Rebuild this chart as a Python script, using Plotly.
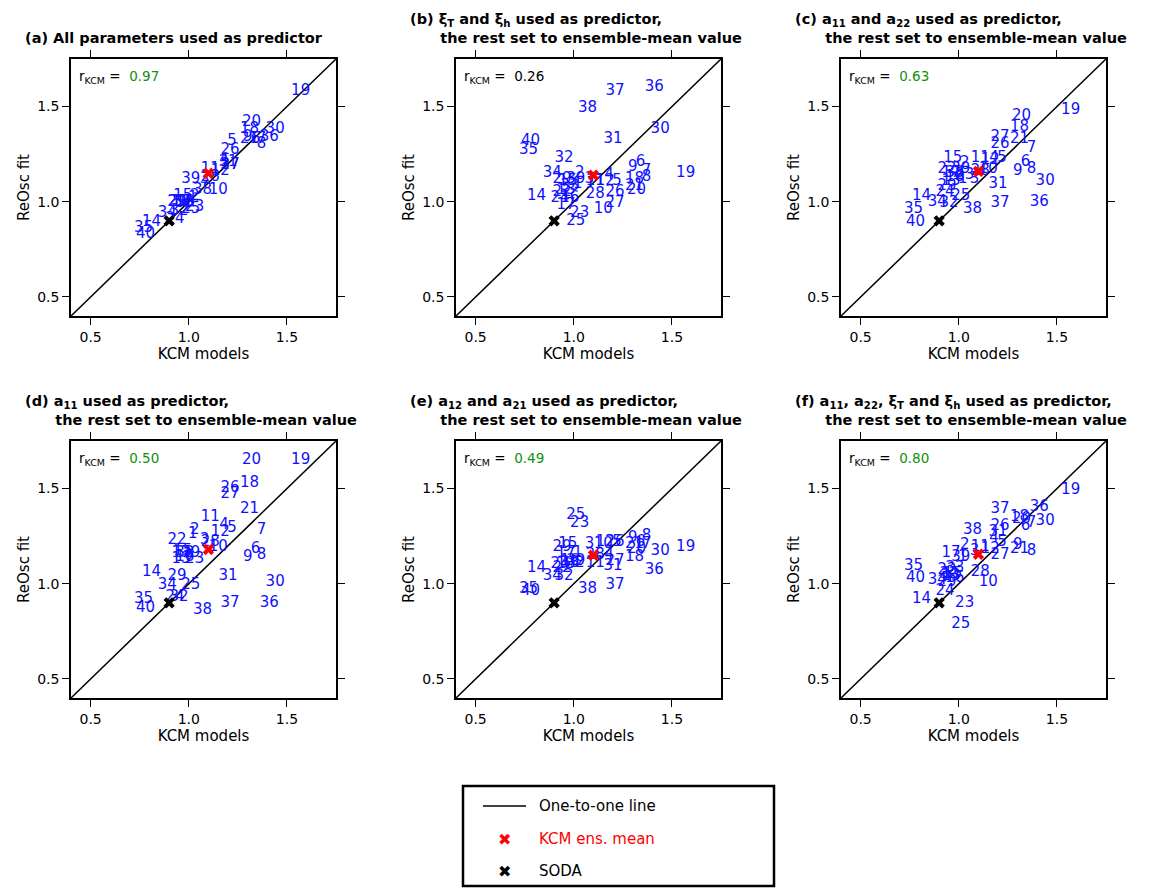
import plotly.graph_objects as go

# KCM model values (x, shared) and ReOsc fits (y) for each predictor experiment
models = [str(i) for i in range(1, 41)]
kcm_x = [1.02, 1.03, 1.08, 1.18, 1.22, 1.34, 1.37, 1.37, 1.30, 1.15,
         1.11, 1.16, 0.96, 0.81, 0.97, 0.98, 0.96, 1.31, 1.57, 1.32,
         1.31, 0.94, 1.03, 0.93, 1.01, 1.21, 1.21, 1.11, 0.94, 1.44,
         1.20, 0.95, 0.98, 0.89, 0.77, 1.41, 1.21, 1.07, 1.01, 0.78]

fit_a = [1.02, 1.03, 1.12, 1.22, 1.32, 1.33, 1.33, 1.30, 1.34, 1.06,
         1.17, 1.16, 1.00, 0.89, 1.03, 1.00, 1.00, 1.38, 1.58, 1.42,
         1.33, 1.00, 0.97, 0.91, 0.96, 1.27, 1.19, 1.13, 1.00, 1.38,
         1.21, 0.95, 0.99, 0.94, 0.86, 1.34, 1.19, 1.06, 1.12, 0.83]
fit_b = [1.09, 1.15, 1.12, 1.14, 1.11, 1.21, 1.16, 1.13, 1.18, 0.96,
         1.11, 1.11, 1.06, 1.03, 1.11, 1.02, 0.98, 1.12, 1.15, 1.06,
         1.08, 1.05, 0.94, 1.02, 0.90, 1.05, 0.99, 1.04, 1.12, 1.38,
         1.33, 1.23, 1.08, 1.15, 1.27, 1.60, 1.58, 1.49, 1.12, 1.32]
fit_c = [1.12, 1.20, 1.12, 1.23, 1.23, 1.21, 1.28, 1.17, 1.16, 1.17,
         1.23, 1.22, 1.11, 1.03, 1.23, 1.13, 1.15, 1.39, 1.48, 1.45,
         1.33, 1.17, 1.14, 1.05, 1.03, 1.30, 1.34, 1.16, 1.08, 1.11,
         1.09, 0.99, 1.15, 1.00, 0.96, 1.00, 0.99, 0.96, 1.17, 0.89]
fit_d = [1.26, 1.28, 1.23, 1.31, 1.29, 1.18, 1.28, 1.15, 1.14, 1.19,
         1.35, 1.27, 1.13, 1.06, 1.17, 1.14, 1.16, 1.53, 1.65, 1.65,
         1.39, 1.23, 1.13, 0.93, 0.99, 1.50, 1.47, 1.22, 1.04, 1.01,
         1.04, 0.93, 1.16, 0.99, 0.92, 0.90, 0.90, 0.86, 1.16, 0.87]
fit_e = [1.16, 1.11, 1.21, 1.15, 1.22, 1.22, 1.21, 1.25, 1.24, 1.21,
         1.11, 1.22, 1.10, 1.08, 1.21, 1.12, 1.16, 1.14, 1.19, 1.18,
         1.21, 1.08, 1.32, 1.10, 1.36, 1.22, 1.12, 1.15, 1.19, 1.17,
         1.09, 1.04, 1.11, 1.04, 0.97, 1.07, 0.99, 0.97, 1.12, 0.96]
fit_f = [1.14, 1.20, 1.17, 1.24, 1.22, 1.30, 1.32, 1.17, 1.20, 1.01,
         1.19, 1.18, 1.04, 0.92, 1.05, 1.03, 1.16, 1.35, 1.49, 1.34,
         1.18, 1.07, 0.90, 0.96, 0.79, 1.30, 1.15, 1.06, 1.01, 1.33,
         1.27, 1.05, 1.08, 1.02, 1.09, 1.40, 1.39, 1.28, 1.14, 1.03]

ens_mean_x = [1.10, 1.10, 1.10, 1.10, 1.10, 1.10]
ens_mean_y = [1.15, 1.14, 1.16, 1.18, 1.15, 1.155]
soda_x, soda_y = 0.90, 0.90
r_kcm = ["0.97", "0.26", "0.63", "0.50", "0.49", "0.80"]
r_color = ["#109010", "black", "#109010", "#109010", "#109010", "#109010"]
line_range = [0.4, 1.75]
tick_vals = [0.5, 1.0, 1.5]
tick_text = ["0.5", "1.0", "1.5"]

titles = [
    "(a) All parameters used as predictor",
    "(b) ξ<sub>T</sub> and ξ<sub>h</sub> used as predictor,<br>      the rest set to ensemble-mean value",
    "(c) a<sub>11</sub> and a<sub>22</sub> used as predictor,<br>      the rest set to ensemble-mean value",
    "(d) a<sub>11</sub> used as predictor,<br>      the rest set to ensemble-mean value",
    "(e) a<sub>12</sub> and a<sub>21</sub> used as predictor,<br>      the rest set to ensemble-mean value",
    "(f) a<sub>11</sub>, a<sub>22</sub>, ξ<sub>T</sub> and ξ<sub>h</sub> used as predictor,<br>      the rest set to ensemble-mean value",
]
fits = [fit_a, fit_b, fit_c, fit_d, fit_e, fit_f]

W, H = 1169, 890
col_px = [(63, 328), (448, 713), (833, 1098)]
row_px = [(51, 308), (433, 690)]
FONT = "DejaVu Sans"

fig = go.Figure()
annotations = []
shapes = []
layout = {}

for i in range(6):
    r, c = divmod(i, 3)
    x0, x1 = col_px[c]
    y0, y1 = row_px[r]
    n = "" if i == 0 else str(i + 1)
    xa, ya = "x" + n, "y" + n
    axis_common = dict(range=line_range, tickvals=tick_vals, ticktext=tick_text,
                       ticks="outside", ticklen=7, tickcolor="black", mirror="ticks", showline=True,
                       linecolor="black", linewidth=1.5, showgrid=False, zeroline=False,
                       tickfont=dict(size=14, color="black", family=FONT))
    layout["xaxis" + n] = dict(axis_common, domain=[x0 / W, x1 / W], anchor=ya,
                               title=dict(text="KCM models", font=dict(size=15, family=FONT, color="black"), standoff=4))
    layout["yaxis" + n] = dict(axis_common, domain=[1 - y1 / H, 1 - y0 / H], anchor=xa,
                               title=dict(text="ReOsc fit", font=dict(size=15, family=FONT, color="black"), standoff=4))

    fig.add_trace(go.Scatter(x=line_range, y=line_range, mode="lines", xaxis=xa, yaxis=ya,
                             line=dict(color="black", width=1.5), showlegend=False))
    fig.add_trace(go.Scatter(x=kcm_x, y=fits[i], mode="text", text=models, xaxis=xa, yaxis=ya,
                             textfont=dict(color="#1010ff", size=15, family=FONT), showlegend=False))
    fig.add_trace(go.Scatter(x=[soda_x], y=[soda_y], mode="markers", xaxis=xa, yaxis=ya,
                             marker=dict(symbol="x", color="black", size=10), showlegend=False))
    fig.add_trace(go.Scatter(x=[ens_mean_x[i]], y=[ens_mean_y[i]], mode="markers", xaxis=xa, yaxis=ya,
                             marker=dict(symbol="x", color="red", size=10), showlegend=False))

    annotations.append(dict(text="<b>" + titles[i] + "</b>", x=(x0 - 48) / W, y=1 - (y0 - 11) / H,
                            xref="paper", yref="paper", xanchor="left", yanchor="bottom", align="left",
                            showarrow=False, font=dict(size=14.5, family=FONT, color="black")))
    annotations.append(dict(text="r<sub>KCM</sub> =  <span style='color:%s'>%s</span>" % (r_color[i], r_kcm[i]),
                            x=(x0 + 6) / W, y=1 - (y0 + 7) / H, xref="paper", yref="paper",
                            xanchor="left", yanchor="top", showarrow=False,
                            font=dict(size=13.5, family=FONT, color="black")))

# legend box
lx0, lx1, ly0, ly1 = 455, 766, 778, 878
shapes.append(dict(type="rect", xref="paper", yref="paper", x0=lx0 / W, x1=lx1 / W,
                   y0=1 - ly1 / H, y1=1 - ly0 / H, line=dict(color="black", width=2.5)))
shapes.append(dict(type="line", xref="paper", yref="paper", x0=475 / W, x1=518 / W,
                   y0=1 - 798 / H, y1=1 - 798 / H, line=dict(color="black", width=1.5)))
legend_items = [("One-to-one line", "black", 798), ("KCM ens. mean", "red", 831), ("SODA", "black", 863)]
for label, color, yy in legend_items:
    annotations.append(dict(text=label, x=529 / W, y=1 - yy / H, xref="paper", yref="paper",
                            xanchor="left", yanchor="middle", showarrow=False,
                            font=dict(size=15, family=FONT, color=color)))
for color, yy in [("red", 831), ("black", 863)]:
    annotations.append(dict(text="✖", x=496 / W, y=1 - yy / H, xref="paper", yref="paper",
                            xanchor="center", yanchor="middle", showarrow=False,
                            font=dict(size=16, family=FONT, color=color)))

fig.update_layout(width=W, height=H, margin=dict(l=0, r=0, t=0, b=0),
                  paper_bgcolor="white", plot_bgcolor="white",
                  annotations=annotations, shapes=shapes,
                  font=dict(family=FONT), **layout)

fig.write_html("out.html")
